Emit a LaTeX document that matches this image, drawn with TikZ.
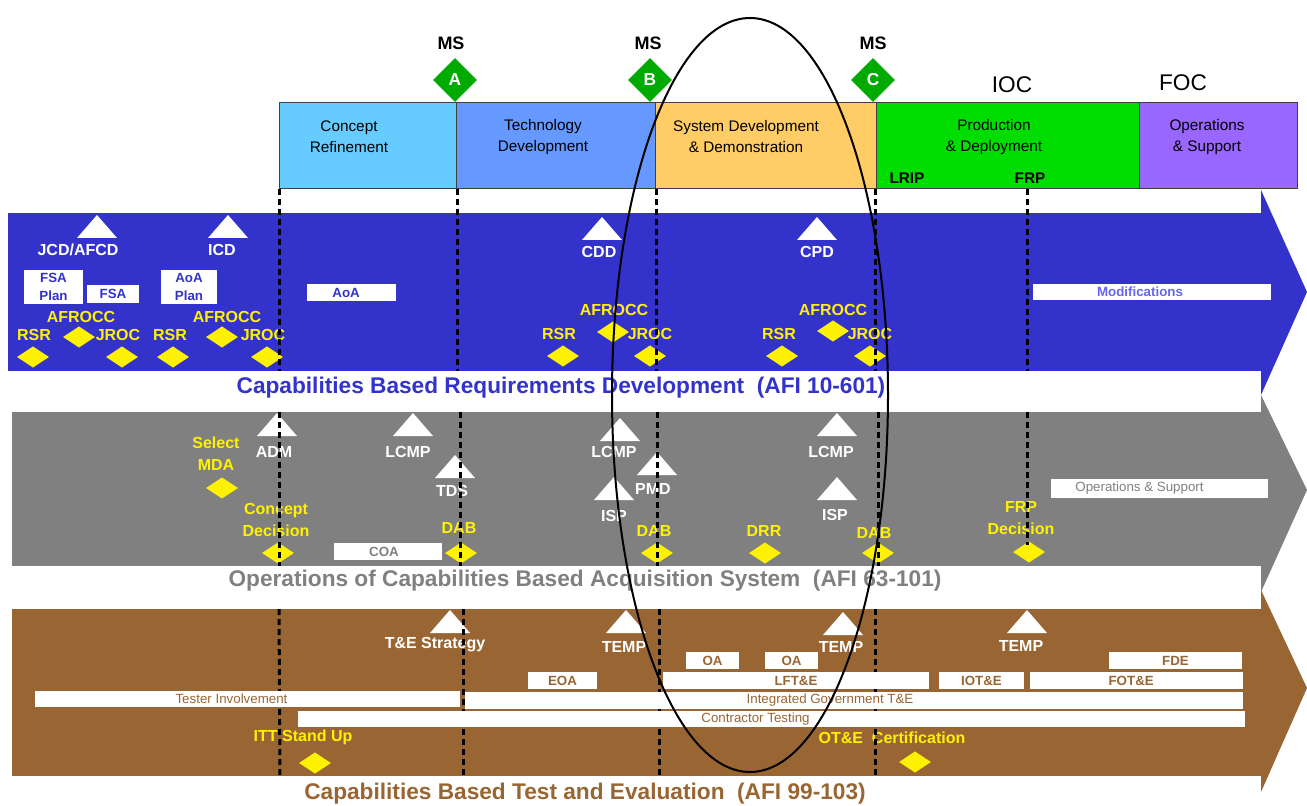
\documentclass[tikz,border=0pt]{standalone}
\usepackage{fontspec}
\setmainfont{Liberation Sans}
\usetikzlibrary{shapes.geometric}
\definecolor{bandblue}{RGB}{51,51,204}
\definecolor{bandgray}{RGB}{128,128,128}
\definecolor{bandbrown}{RGB}{153,102,51}
\definecolor{phA}{RGB}{102,204,255}
\definecolor{phB}{RGB}{102,153,255}
\definecolor{phC}{RGB}{255,204,102}
\definecolor{phD}{RGB}{0,221,0}
\definecolor{phE}{RGB}{153,102,255}
\definecolor{msgreen}{RGB}{0,170,0}
\definecolor{modtxt}{RGB}{102,102,238}
\newcommand{\wbox}[7]{\fill[white] (#2,#3) rectangle (#4,#5);
  \node[boxtxt,#7] (#1) at ({(#2+#4)/2},{(#3+#5)/2}) {#6};}
\begin{document}
\begin{tikzpicture}[x=0.75pt,y=-0.75pt,
 every node/.style={inner sep=0pt, align=center},
 wlbl/.style={font=\fontsize{12}{14}\selectfont\bfseries, text=white},
 ylbl/.style={font=\fontsize{12}{16.5}\selectfont\bfseries, text=yellow},
 ydia/.style={diamond, fill=yellow, minimum width=24pt, minimum height=16pt},
 msdia/.style={diamond, fill=msgreen, minimum width=33pt, minimum height=33pt, text=white, font=\fontsize{13}{13}\selectfont\bfseries},
 phtxt/.style={font=\fontsize{11.5}{15.75}\selectfont, text=black},
 phbox/.style={draw=black!75, line width=0.75pt},
 boxtxt/.style={font=\fontsize{10}{13.5}\selectfont},
 mline/.style={line width=2.25pt, dash pattern=on 4.5pt off 3pt},
 bandtitle/.style={font=\fontsize{17}{20}\selectfont\bfseries},
 tri/.pic={\fill[white] (-20,23) -- (0,0) -- (20,23) -- cycle;}
]
\useasboundingbox (0,0) rectangle (1307,806);
\fill[white] (0,0) rectangle (1307,806);

% ---------- phase boxes ----------
\draw[phbox, fill=phA] (279,103) rectangle (456,189);
\draw[phbox, fill=phB] (456,103) rectangle (655,189);
\draw[phbox, fill=phC] (655,103) rectangle (876,189);
\draw[phbox, fill=phD] (876,103) rectangle (1139,189);
\draw[phbox, fill=phE] (1139,103) rectangle (1297,189);
\node[phtxt] (cr) at (349,137) {Concept\\Refinement};
\node[phtxt] (td) at (543,137) {Technology\\Development};
\node[phtxt] (sdd) at (746,137) {System Development\\\& Demonstration};
\node[phtxt] (pd) at (994,137) {Production\\\& Deployment};
\node[phtxt] (os) at (1207,137) {Operations\\\& Support};
\node[phtxt, font=\fontsize{11.5}{13}\selectfont\bfseries] (lrip) at (907,178) {LRIP};
\node[phtxt, font=\fontsize{11.5}{13}\selectfont\bfseries] (frp) at (1030,178) {FRP};

% milestones
\node[font=\fontsize{13.5}{15}\selectfont\bfseries] (msa) at (451,43) {MS};
\node[font=\fontsize{13.5}{15}\selectfont\bfseries] (msb) at (648,43) {MS};
\node[font=\fontsize{13.5}{15}\selectfont\bfseries] (msc) at (873,43) {MS};
\node[msdia] (da) at (455,80) {A};
\node[msdia] (db) at (650,80) {B};
\node[msdia] (dc) at (873,80) {C};
\node[font=\fontsize{17}{19}\selectfont] (ioc) at (1012,85) {IOC};
\node[font=\fontsize{17}{19}\selectfont] (foc) at (1183,83) {FOC};

% ---------- bands ----------
\fill[bandblue] (8,213) rectangle (1262,371);
\fill[bandblue] (1261,190) -- (1307,292) -- (1261,395) -- cycle;
\fill[bandgray] (12,412) rectangle (1262,566);
\fill[bandgray] (1261,395) -- (1307,490) -- (1261,592) -- cycle;
\fill[bandbrown] (12,609) rectangle (1262,776);
\fill[bandbrown] (1261,590) -- (1307,688) -- (1261,792) -- cycle;

\node[bandtitle, text=bandblue] (t1) at (561,388) {Capabilities Based Requirements Development\ \ (AFI 10-601)};
\node[bandtitle, text=bandgray] (t2) at (585,581) {Operations of Capabilities Based Acquisition System\ \ (AFI 63-101)};
\node[bandtitle, text=bandbrown] (t3) at (585,794) {Capabilities Based Test and Evaluation\ \ (AFI 99-103)};

% ---------- requirements band ----------
\pic at (97,215) {tri};
\pic at (228,215) {tri};
\pic at (602,217) {tri};
\pic at (817,217) {tri};
\node[wlbl] (jcd) at (78,250) {JCD/AFCD};
\node[wlbl] (icd) at (222,250) {ICD};
\node[wlbl] (cdd) at (599,252) {CDD};
\node[wlbl] (cpd) at (817,252) {CPD};

\node[ylbl] (af1) at (81,317) {AFROCC};
\node[ylbl] (rsr1) at (34,335) {RSR};
\node[ylbl] (jroc1) at (118,335) {JROC};
\node[ylbl] (rsr2) at (170,335) {RSR};
\node[ylbl] (af2) at (227,317) {AFROCC};
\node[ylbl] (jroc2) at (263,335) {JROC};
\node[ylbl] (af3) at (614,310) {AFROCC};
\node[ylbl] (rsr3) at (559,334) {RSR};
\node[ylbl] (jroc3) at (650,334) {JROC};
\node[ylbl] (af4) at (833,310) {AFROCC};
\node[ylbl] (rsr4) at (779,334) {RSR};
\node[ylbl] (jroc4) at (870,334) {JROC};
\node[ydia] (drsr1) at (33,357) {};
\node[ydia] (daf1) at (79,337) {};
\node[ydia] (djroc1) at (122,357) {};
\node[ydia] (drsr2) at (173,357) {};
\node[ydia] (daf2) at (222,337) {};
\node[ydia] (djroc2) at (267,357) {};
\node[ydia] (daf3) at (613,332) {};
\node[ydia] (drsr3) at (563,356) {};
\node[ydia] (djroc3) at (650,356) {};
\node[ydia] (daf4) at (833,331) {};
\node[ydia] (drsr4) at (782,356) {};
\node[ydia] (djroc4) at (870,356) {};

% ---------- acquisition band ----------
\node[ylbl] (smda) at (216,454) {Select\\MDA};
\node[ydia] (dsmda) at (222,488) {};
\pic at (277,413) {tri};
\node[wlbl] (adm) at (274,452) {ADM};
\pic at (413,413) {tri};
\node[wlbl] (lcmp1) at (408,452) {LCMP};
\node[ylbl] (cdec) at (276,520) {Concept\\Decision};
\node[ydia] (dcdec) at (278,553) {};
\pic at (455,455) {tri};
\node[wlbl] (tds) at (452,491) {TDS};
\node[ylbl] (dab1) at (459,528) {DAB};
\node[ydia] (ddab1) at (461,553) {};
\pic at (620,418) {tri};
\node[wlbl] (lcmp2) at (614,452) {LCMP};
\pic at (614,477) {tri};
\node[wlbl] (isp1) at (614,516) {ISP};
\pic at (657,452) {tri};
\node[wlbl] (pmd) at (653,489) {PMD};
\node[ylbl] (dab2) at (654,531) {DAB};
\node[ydia] (ddab2) at (657,553) {};
\node[ylbl] (drr) at (764,531) {DRR};
\node[ydia] (ddrr) at (765,553) {};
\pic at (837,413) {tri};
\node[wlbl] (lcmp3) at (831,452) {LCMP};
\pic at (837,477) {tri};
\node[wlbl] (isp2) at (835,515) {ISP};
\node[ylbl] (dab3) at (874,533) {DAB};
\node[ydia] (ddab3) at (878,553) {};
\node[ylbl] (frpd) at (1021,518) {FRP\\Decision};
\node[ydia] (dfrpd) at (1029,552) {};

% ---------- T&E band ----------
\pic at (450,610) {tri};
\node[wlbl] (tes) at (435,645) {T\&E Strategy};
\pic at (626,610) {tri};
\node[wlbl] (temp1) at (624,647) {TEMP};
\pic at (843,612) {tri};
\node[wlbl] (temp2) at (841,647) {TEMP};
\pic at (1027,610) {tri};
\node[wlbl] (temp3) at (1021,646) {TEMP};
\node[ylbl] (itt) at (303,737) {ITT Stand Up};
\node[ydia] (ditt) at (315,763) {};
\node[ylbl] (otec) at (892,738) {OT\&E\ \ Certification};
\node[ydia] (dotec) at (915,762) {};

% ---------- milestone lines ----------
\draw[mline] (279,189) -- (279,371);
\draw[mline] (279,412) -- (279,566);
\draw[mline] (279,609) -- (280,777);
\draw[mline] (457,189) -- (457,371);
\draw[mline] (460,412) -- (460,566);
\draw[mline] (463,609) -- (463,777);
\draw[mline] (656,189) -- (656,371);
\draw[mline] (657,412) -- (657,566);
\draw[mline] (659,609) -- (659,777);
\draw[mline] (875,189) -- (875,371);
\draw[mline] (878,412) -- (878,566);
\draw[mline] (875,609) -- (875,777);
\draw[mline] (1027,189) -- (1027,371);
\draw[mline] (1027,412) -- (1027,545);

% ---------- white boxes ----------
\wbox{fsap}{24}{270}{83}{304}{FSA\\Plan}{text=bandblue,font=\fontsize{10}{13.5}\selectfont\bfseries}
\wbox{fsa}{87}{285}{139}{303}{FSA}{text=bandblue,font=\fontsize{10}{13.5}\selectfont\bfseries}
\wbox{aoap}{161}{270}{217}{304}{AoA\\Plan}{text=bandblue,font=\fontsize{10}{13.5}\selectfont\bfseries}
\wbox{aoa}{307}{284}{396}{301}{AoA}{text=bandblue,font=\fontsize{10}{13.5}\selectfont\bfseries,xshift=-4pt}
\wbox{mods}{1033}{284}{1271}{300}{Modifications}{text=modtxt,font=\fontsize{10}{12}\selectfont\bfseries,xshift=-9pt}
\wbox{coa}{334}{543}{442}{560}{COA}{text=bandgray,font=\fontsize{10}{12}\selectfont\bfseries,xshift=-3pt}
\wbox{ops}{1051}{479}{1268}{498}{Operations \& Support}{text=bandgray,xshift=-15pt}
\wbox{oa1}{686}{652}{739}{669}{OA}{text=bandbrown,font=\fontsize{10}{12}\selectfont\bfseries}
\wbox{oa2}{765}{652}{818}{669}{OA}{text=bandbrown,font=\fontsize{10}{12}\selectfont\bfseries}
\wbox{fde}{1109}{652}{1242}{669}{FDE}{text=bandbrown,font=\fontsize{10}{12}\selectfont\bfseries}
\wbox{eoa}{528}{672}{597}{689}{EOA}{text=bandbrown,font=\fontsize{10}{12}\selectfont\bfseries}
\wbox{lfte}{663}{672}{929}{689}{LFT\&E}{text=bandbrown,font=\fontsize{10}{12}\selectfont\bfseries}
\wbox{iote}{939}{672}{1024}{689}{IOT\&E}{text=bandbrown,font=\fontsize{10}{12}\selectfont\bfseries}
\wbox{fote}{1030}{672}{1243}{689}{FOT\&E}{text=bandbrown,font=\fontsize{10}{12}\selectfont\bfseries,xshift=-4pt}
\wbox{tinv}{35}{691}{460}{707}{Tester Involvement}{text=bandbrown,xshift=-12pt}
\wbox{igte}{465}{692}{1243}{709}{Integrated Government T\&E}{text=bandbrown,xshift=-18pt}
\wbox{ctst}{298}{711}{1245}{727}{Contractor Testing}{text=bandbrown,xshift=-12pt}

% ---------- ellipse ----------
\draw[line width=1.5pt] (750,395) ellipse [x radius=138, y radius=377];
\end{tikzpicture}
\end{document}
